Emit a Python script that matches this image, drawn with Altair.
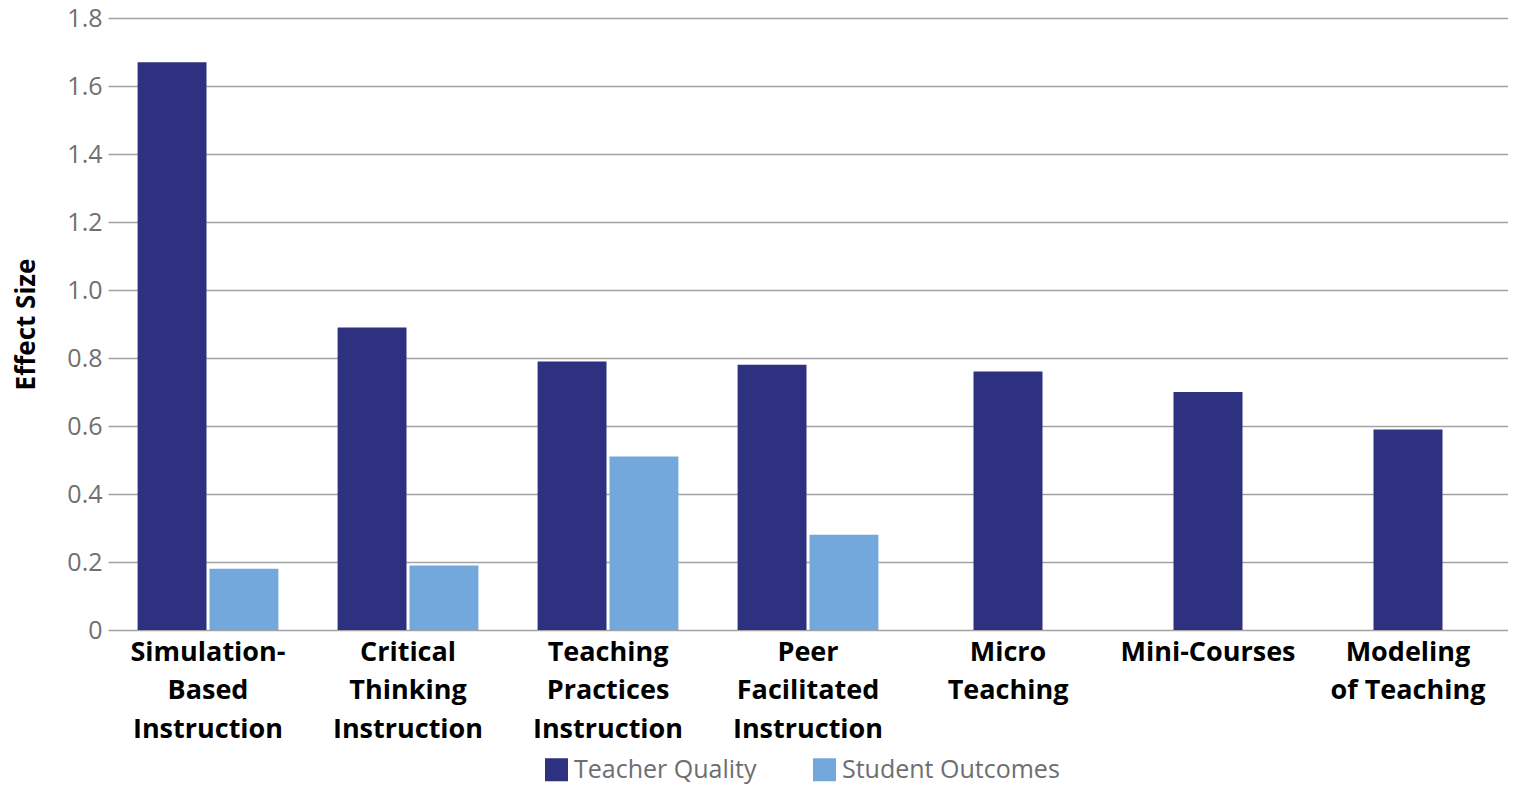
import json
import altair as alt
import pandas as pd

categories = [
    "Simulation-Based Instruction",
    "Critical Thinking Instruction",
    "Teaching Practices Instruction",
    "Peer Facilitated Instruction",
    "Micro Teaching",
    "Mini-Courses",
    "Modeling of Teaching",
]
category_lines = [
    ["Simulation-", "Based", "Instruction"],
    ["Critical", "Thinking", "Instruction"],
    ["Teaching", "Practices", "Instruction"],
    ["Peer", "Facilitated", "Instruction"],
    ["Micro", "Teaching"],
    ["Mini-Courses"],
    ["Modeling", "of Teaching"],
]
series = ["Teacher Quality", "Student Outcomes"]
teacher_quality = [1.67, 0.89, 0.79, 0.78, 0.76, 0.70, 0.59]
student_outcomes = [0.18, 0.19, 0.51, 0.28, None, None, None]
y_ticks = [0, 0.2, 0.4, 0.6, 0.8, 1.0, 1.2, 1.4, 1.6, 1.8]
colors = ["#2d3180", "#72a8dc"]

pair_rows, single_rows = [], []
for cat, tq, so in zip(categories, teacher_quality, student_outcomes):
    if so is None:
        single_rows.append({"category": cat, "series": series[0], "value": tq})
    else:
        pair_rows.append({"category": cat, "series": series[0], "value": tq})
        pair_rows.append({"category": cat, "series": series[1], "value": so})
pair_df = pd.DataFrame(pair_rows)
single_df = pd.DataFrame(single_rows)

label_map = json.dumps(dict(zip(categories, category_lines)))
x_label_expr = f"({label_map})[datum.label]"

x_enc = alt.X(
    "category:N",
    sort=categories,
    scale=alt.Scale(paddingInner=0.296, paddingOuter=0.148),
    axis=alt.Axis(
        title=None,
        labelAngle=0,
        labelExpr=x_label_expr,
        labelFontSize=27,
        labelFontWeight="bold",
        labelColor="#000000",
        labelLineHeight=38.5,
        labelPadding=9,
        labelBaseline="top",
        labelLimit=0,
        ticks=False,
        domain=False,
        grid=False,
    ),
)
y_enc = alt.Y(
    "value:Q",
    scale=alt.Scale(domain=[0, 1.8], nice=False, zero=True),
    axis=alt.Axis(
        title="Effect Size",
        values=y_ticks,
        labelExpr="datum.value == 0 ? '0' : format(datum.value, '.1f')",
        labelFontSize=25,
        labelColor="#707070",
        labelPadding=6,
        ticks=False,
        domain=False,
        grid=True,
        gridColor="#a3a3a3",
        gridWidth=1.4,
        titleFontSize=26,
        titleFontWeight="bold",
        titleColor="#000000",
        titleAngle=-90,
        titleX=-74,
        titleY=306,
        titleBaseline="alphabetic",
    ),
)
color_enc = alt.Color(
    "series:N",
    scale=alt.Scale(domain=series, range=colors),
    legend=alt.Legend(
        title=None,
        orient="none",
        direction="horizontal",
        legendX=436,
        legendY=739,
        symbolType="square",
        symbolSize=529,
        symbolStrokeWidth=0,
        symbolOpacity=1,
        labelFontSize=25,
        labelColor="#6d6e71",
        labelOffset=5,
        labelLimit=0,
        columnPadding=55,
        padding=0,
    ),
)

pair_layer = alt.Chart(pair_df).mark_bar().encode(
    x=x_enc,
    xOffset=alt.XOffset("series:N", sort=series, scale=alt.Scale(paddingInner=0.0417)),
    y=y_enc,
    color=color_enc,
)
single_layer = alt.Chart(single_df).mark_bar(width=69).encode(
    x=x_enc,
    y=y_enc,
    color=color_enc,
)

chart = (
    alt.layer(pair_layer, single_layer)
    .properties(
        width=1400,
        height=612,
        autosize=alt.AutoSizeParams(type="none"),
        padding={"left": 100, "top": 10, "right": 0, "bottom": 154},
    )
    .configure(font="Open Sans")
    .configure_view(stroke=None)
)

chart.save("out.html", embed_options={"renderer": "svg", "actions": False})
